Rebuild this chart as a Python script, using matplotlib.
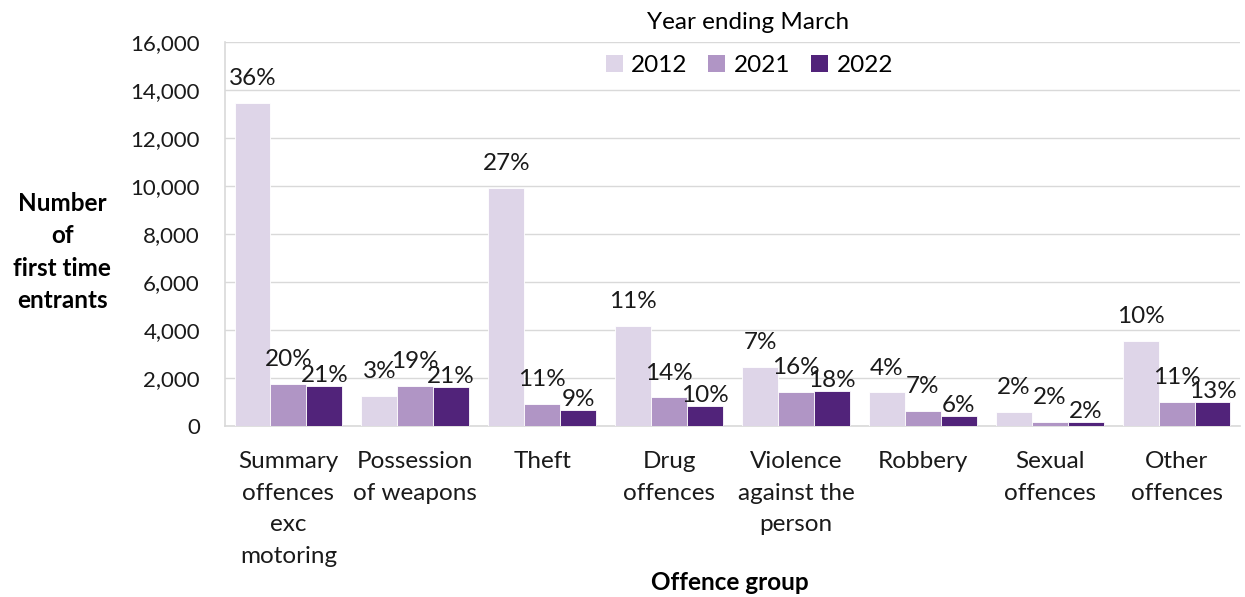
import matplotlib
matplotlib.use("Agg")
import matplotlib.pyplot as plt
import numpy as np
from matplotlib.patches import Patch

plt.rcParams['font.family'] = ['Lato', 'DejaVu Sans']

# --- data ---
groups = ["Summary\noffences\nexc\nmotoring", "Possession\nof weapons", "Theft",
          "Drug\noffences", "Violence\nagainst the\nperson", "Robbery",
          "Sexual\noffences", "Other\noffences"]
years = ["2012", "2021", "2022"]
fte_2012 = [13470, 1260, 9930, 4180, 2470, 1400, 570, 3540]
fte_2021 = [1750, 1680, 930, 1190, 1420, 610, 180, 1000]
fte_2022 = [1670, 1630, 680, 820, 1450, 430, 170, 1000]
pct_2012 = ["36%", "3%", "27%", "11%", "7%", "4%", "2%", "10%"]
pct_2021 = ["20%", "19%", "11%", "14%", "16%", "7%", "2%", "11%"]
pct_2022 = ["21%", "21%", "9%", "10%", "18%", "6%", "2%", "13%"]

colours = ["#DED5E8", "#B095C5", "#51237A"]
FS = 17.5      # labels and category names
FS_TICK = 16   # y tick labels

fig = plt.figure(figsize=(12.45, 5.97), dpi=100)
ax = fig.add_axes([0.1807, 0.2864, 0.8153, 0.6432])

x = np.arange(len(groups))
w = 0.283
series = [(fte_2012, pct_2012, 10), (fte_2021, pct_2021, 10), (fte_2022, pct_2022, 0)]
for i, (vals, pcts, off) in enumerate(series):
    pos = x + (i - 1) * w
    ax.bar(pos, vals, width=w, color=colours[i], edgecolor="white", linewidth=0.6,
           label=years[i], zorder=3)
    for px, v, p in zip(pos, vals, pcts):
        ax.annotate(p, (px, v), xytext=(0, off), textcoords="offset points",
                    ha="center", va="bottom", fontsize=FS, color="#1a1a1a", zorder=4)

ax.set_xlim(-0.5, len(groups) - 0.5)
ax.set_ylim(0, 16000)
ax.set_yticks(np.arange(0, 16001, 2000))
ax.set_yticklabels([f"{t:,}" for t in range(0, 16001, 2000)], fontsize=FS_TICK)
ax.set_xticks(x)
ax.set_xticklabels(groups, fontsize=FS, linespacing=1.63, va="top")
ax.tick_params(axis="both", length=0, colors="#1a1a1a")
ax.tick_params(axis="x", pad=18)
ax.tick_params(axis="y", pad=18)
ax.grid(axis="y", color="#D9D9D9", linewidth=1, zorder=0)
for side in ["top", "right"]:
    ax.spines[side].set_visible(False)
for side in ["left", "bottom"]:
    ax.spines[side].set_color("#D9D9D9")
    ax.spines[side].set_linewidth(1.2)

fig.text(0.5863, 0.0235, "Offence group", ha="center", va="center",
         fontsize=FS, fontweight="bold")
fig.text(0.050, 0.578, "Number\nof\nfirst time\nentrants", ha="center", va="center",
         fontsize=FS, fontweight="bold", linespacing=1.5)

# legend with its title set as separate text above the entries
fig.text(0.601, 0.963, "Year ending March", ha="center", va="center", fontsize=FS)
handles = [Patch(facecolor=c, edgecolor="none") for c in colours]
fig.legend(handles, years, loc="center", bbox_to_anchor=(0.602, 0.891), ncol=3,
           frameon=False, fontsize=FS, handlelength=0.7, handleheight=0.7,
           handletextpad=0.35, columnspacing=0.85)

fig.savefig("out.png", dpi=100)
